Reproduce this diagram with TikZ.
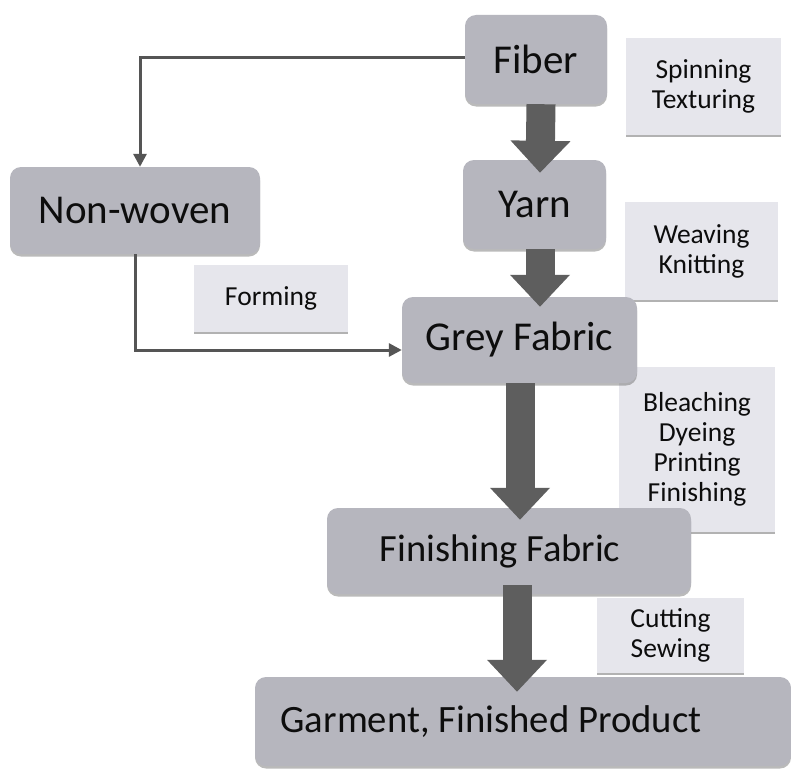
\documentclass[tikz,border=0pt]{standalone}
\usepackage{fontspec}
\setmainfont{Carlito}
\usetikzlibrary{arrows.meta,shadows}
\definecolor{boxgray}{HTML}{B6B6BE}
\definecolor{labgray}{HTML}{E6E6EC}
\definecolor{arrowgray}{HTML}{5E5E5E}
\definecolor{linegray}{HTML}{555555}
\tikzset{
  mainbox/.style={rectangle, rounded corners=11pt, fill=boxgray, inner sep=0pt,
    drop shadow={shadow xshift=0pt, shadow yshift=-2.5pt, opacity=0.45, fill=black!60},
    font=\fontsize{41}{46}\selectfont, text=black!95},
  labbox/.style={rectangle, fill=labgray, inner sep=0pt, align=center,
    drop shadow={shadow xshift=0pt, shadow yshift=-2pt, opacity=0.5, fill=black!60},
    font=\fontsize{27.5}{30}\selectfont, text=black!95},
  bigarrow/.style={arrowgray, line width=29pt, -{Triangle[width=58pt,length=32pt]}},
  thinline/.style={linegray, line width=3pt, -{Triangle[width=13pt,length=13pt]}}
}
\begin{document}
\begin{tikzpicture}[x=1pt,y=-1pt]
\useasboundingbox (0,0) rectangle (791,768);
\fill[white] (0,0) rectangle (791,768);
% labels
\node[labbox, minimum width=155pt, minimum height=97pt] (lspin) at (703.5,86.5) {Spinning\\Texturing};
\node[labbox, minimum width=153pt, minimum height=98pt] (lweave) at (701.5,251) {Weaving\\Knitting};
\node[labbox, minimum width=154pt, minimum height=67pt] (lform) at (271,298.5) {Forming};
\node[labbox, minimum width=156pt, minimum height=165pt] (lbleach) at (697,449.5) {Bleaching\\Dyeing\\Printing\\Finishing};
\node[labbox, minimum width=147pt, minimum height=75pt] (lcut) at (670.5,635.5) {Cutting\\Sewing};
% main boxes
\node[mainbox, minimum width=142pt, minimum height=89pt] (fiber) at (536,59.5) {Fiber};
\node[mainbox, minimum width=143pt, minimum height=89pt] (yarn) at (534.5,204.5) {Yarn};
\node[mainbox, minimum width=250pt, minimum height=87pt] (nonwoven) at (135,210.5) {Non-woven};
\node[mainbox, minimum width=235pt, minimum height=86pt] (grey) at (519.5,340) {Grey Fabric};
\node[mainbox, minimum width=364pt, minimum height=86pt, font=\fontsize{38.5}{44}\selectfont] (finfab) at (509,551) {\hspace*{-18pt}Finishing Fabric};
\node[mainbox, minimum width=536pt, minimum height=89pt, font=\fontsize{38.7}{44}\selectfont] (garment) at (523,721.5) {\hspace*{-64pt}Garment, Finished Product};
% thin connectors
\draw[thinline] ([yshift=2pt]fiber.west) -| ([xshift=5pt]nonwoven.north);
\draw[thinline] (nonwoven.south) |- ([yshift=-10pt]grey.west);
% big arrows
\draw[bigarrow] ([xshift=5pt]fiber.south) -- ([xshift=5.5pt,yshift=-13pt]yarn.north);
\draw[bigarrow] ([xshift=5.5pt]yarn.south) -- ([xshift=20.5pt,yshift=-10pt]grey.north);
\draw[bigarrow] ([xshift=0.5pt]grey.south) -- ([xshift=11pt,yshift=-12pt]finfab.north);
\draw[bigarrow] ([xshift=8pt,yshift=9pt]finfab.south) -- ([xshift=-6pt,yshift=-15pt]garment.north);
\end{tikzpicture}
\end{document}
